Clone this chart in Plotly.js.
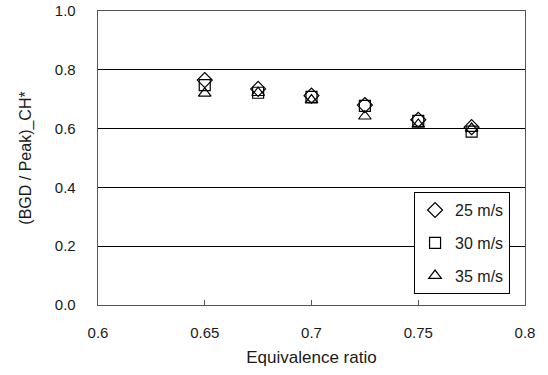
<!DOCTYPE html>
<html>
<head>
<meta charset="utf-8">
<script src="https://cdn.plot.ly/plotly-3.0.1.min.js"></script>
<style>html,body{margin:0;padding:0;background:#fff;}#chart{width:548px;height:375px;}</style>
</head>
<body>
<div id="chart"></div>
<script>
const phi = [0.65, 0.675, 0.7, 0.725, 0.75, 0.775];
const v25 = [0.765, 0.735, 0.712, 0.680, 0.630, 0.605];
const v30 = [0.748, 0.722, 0.708, 0.677, 0.626, 0.590];
const v35 = [0.720, 0.722, 0.697, 0.642, 0.614, 0.600];
const seriesNames = ['25 m/s', '30 m/s', '35 m/s'];
const symbols = ['diamond-open', 'square-open', 'triangle-up-open'];
const values = [v25, v30, v35];

const traces = values.map((v, i) => ({
  x: phi, y: v, type: 'scatter', mode: 'markers', name: seriesNames[i],
  legendgroup: 'g' + i,
  marker: {symbol: symbols[i], size: i === 0 ? 11.5 : 11, color: '#000', line: {color: '#000', width: 1.2}}
}));

const fam = '"Liberation Sans", Arial, sans-serif';
const layout = {
  width: 548, height: 375,
  margin: {l: 98, r: 23, t: 11, b: 70},
  paper_bgcolor: '#fff', plot_bgcolor: '#fff',
  font: {family: fam, size: 15, color: '#1a1a1a'},
  showlegend: true,
  legend: {
    x: 0.965, y: 0.384, xanchor: 'right', yanchor: 'top',
    bordercolor: '#000', borderwidth: 1, bgcolor: '#fff',
    font: {family: fam, size: 16, color: '#1a1a1a'},
    tracegroupgap: 9, itemwidth: 30
  },
  xaxis: {
    range: [0.6, 0.8], dtick: 0.05, tick0: 0.6,
    showgrid: false, zeroline: false,
    showline: true, linecolor: '#555', linewidth: 1.3, mirror: true,
    ticks: 'inside', ticklen: 5, tickcolor: '#555',
    ticklabelstandoff: 14,
    title: {text: 'Equivalence ratio', font: {family: fam, size: 17, color: '#1a1a1a'}, standoff: 10}
  },
  yaxis: {
    range: [0, 1.0], dtick: 0.2, tick0: 0,
    tickformat: '.1f',
    showgrid: true, gridcolor: '#000', gridwidth: 1,
    zeroline: false,
    showline: true, linecolor: '#555', linewidth: 1.3, mirror: true,
    ticks: '', ticklabelstandoff: 18,
    title: {text: '(BGD / Peak)_CH*', font: {family: fam, size: 16, color: '#1a1a1a'}, standoff: 19}
  }
};
Plotly.newPlot('chart', traces, layout, {displayModeBar: false, staticPlot: true});
</script>
</body>
</html>
